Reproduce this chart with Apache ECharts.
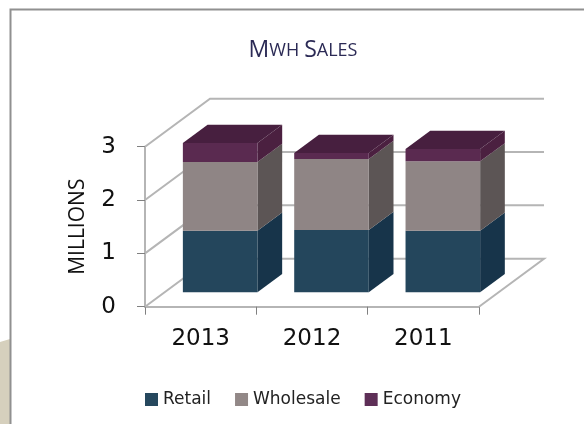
<!DOCTYPE html>
<html>
<head>
<meta charset="utf-8">
<style>
html, body { margin: 0; padding: 0; background: #fff; }
#main { width: 584px; height: 424px; }
</style>
<script src="https://cdn.jsdelivr.net/npm/echarts@6/dist/echarts.min.js"></script>
</head>
<body>
<div id="main"></div>
<script>
var categories = ['2013', '2012', '2011'];
var retail = [1.155, 1.17, 1.155];
var wholesale = [1.29, 1.33, 1.30];
var economy = [0.355, 0.11, 0.23];
var yTicks = [0, 1, 2, 3];

// fake 3D: how far the back wall sits from the front plane, in px
var DEPTH_X = 65, DEPTH_Y = 48;
var BAR_FRONT = 0.3, BAR_BACK = 0.68, BAR_WIDTH = 0.67;

function stackData(values, below) {
	return values.map(function (v, i) {
		var lo = below ? below[i] : 0;
		return [i, lo, lo + v];
	});
}
var retailStack = stackData(retail);
var retailTop = retail.map(function (v) { return v; });
var wholesaleStack = stackData(wholesale, retailTop);
var wholesaleTop = wholesale.map(function (v, i) { return v + retailTop[i]; });
var economyStack = stackData(economy, wholesaleTop);

function boxRenderer(front, side, top) {
	return function (params, api) {
		var cat = api.value(0);
		var band = api.size([1, 0])[0];
		var lo = api.coord([cat, api.value(1)]);
		var hi = api.coord([cat, api.value(2)]);
		var x0 = lo[0] - band * BAR_WIDTH / 2 + DEPTH_X * BAR_FRONT;
		var x1 = lo[0] + band * BAR_WIDTH / 2 + DEPTH_X * BAR_FRONT;
		var yLo = lo[1] - DEPTH_Y * BAR_FRONT;
		var yHi = hi[1] - DEPTH_Y * BAR_FRONT;
		var dx = DEPTH_X * (BAR_BACK - BAR_FRONT);
		var dy = DEPTH_Y * (BAR_BACK - BAR_FRONT);
		var faces = [
			{ type: 'polygon', shape: { points: [[x1, yLo], [x1 + dx, yLo - dy], [x1 + dx, yHi - dy], [x1, yHi]] }, style: { fill: side } },
			{ type: 'rect', shape: { x: x0, y: yHi, width: x1 - x0, height: yLo - yHi }, style: { fill: front } }
		];
		if (top) {
			faces.push({ type: 'polygon', shape: { points: [[x0, yHi], [x1, yHi], [x1 + dx, yHi - dy], [x0 + dx, yHi - dy]] }, style: { fill: top } });
		}
		return { type: 'group', children: faces };
	};
}

// walls: one diagonal plus one back line per y tick, the floor closes on the right
function wallRenderer(params, api) {
	var v = api.value(1);
	var band = api.size([1, 0])[0];
	var left = api.coord([0, v]);
	var right = api.coord([categories.length - 1, v]);
	var xl = left[0] - band / 2;
	var xr = right[0] + band / 2;
	var y = left[1];
	var style = { stroke: '#b5b5b5', lineWidth: 2, fill: null };
	var pts = [[xl, y], [xl + DEPTH_X, y - DEPTH_Y], [xr + DEPTH_X, y - DEPTH_Y]];
	if (v === 0) {
		pts.push([xr, y]);
	}
	return { type: 'polyline', shape: { points: pts }, style: style };
}

var myChart = echarts.init(document.getElementById('main'));
myChart.setOption({
	animation: false,
	backgroundColor: '#fff',
	title: {
		text: '{a|M}{b|WH} {a|S}{b|ALES}',
		left: 298,
		top: 34,
		textAlign: 'center',
		textStyle: {
			rich: {
				a: { fontFamily: 'Open Sans', fontWeight: 'normal', fontSize: 23, color: '#2b2a55' },
				b: { fontFamily: 'Open Sans', fontWeight: 'normal', fontSize: 18, color: '#2b2a55' }
			}
		}
	},
	legend: {
		left: 145,
		top: 391,
		itemWidth: 13,
		itemHeight: 13,
		itemGap: 24,
		icon: 'rect',
		data: ['Retail', 'Wholesale', 'Economy'],
		textStyle: { fontFamily: 'DejaVu Sans', fontSize: 17, color: '#222', padding: [-6, 0, 0, 0] },
		padding: 0,
		selectedMode: false
	},
	grid: { left: 145, top: 146.7, width: 334, height: 160 },
	xAxis: {
		type: 'category',
		data: categories,
		axisLine: { show: true, lineStyle: { color: '#b5b5b5', width: 2 } },
		axisTick: { show: true, length: 8, lineStyle: { color: '#808080', width: 1 } },
		axisLabel: { fontFamily: 'DejaVu Sans', fontSize: 23, color: '#111', margin: 21 }
	},
	yAxis: {
		type: 'value',
		min: 0,
		max: 3,
		interval: 1,
		name: 'MILLIONS',
		nameLocation: 'middle',
		nameGap: 56,
		nameTextStyle: { fontFamily: 'Open Sans', fontSize: 21, color: '#111' },
		splitLine: { show: false },
		axisLine: { show: true, lineStyle: { color: '#b5b5b5', width: 2 } },
		axisTick: { show: true, length: 8, lineStyle: { color: '#808080', width: 1 } },
		axisLabel: { fontFamily: 'DejaVu Sans', fontSize: 23, color: '#111', margin: 29 }
	},
	graphic: [
		{ type: 'polygon', silent: true, z: -1, shape: { points: [[0, 342], [10, 339], [10, 424], [0, 424]] }, style: { fill: '#d6d0bd' } },
		{ type: 'polyline', silent: true, z: -1, shape: { points: [[584, 9.5], [10.5, 9.5], [10.5, 424]] }, style: { stroke: '#909090', lineWidth: 2, fill: null } }
	],
	series: [
		{
			type: 'custom', name: 'walls', clip: false, z: 1,
			encode: { x: 0, y: 1 },
			data: yTicks.map(function (t) { return [0, t]; }),
			renderItem: wallRenderer
		},
		{
			type: 'custom', name: 'Retail', clip: false, z: 2,
			itemStyle: { color: '#26485e' },
			encode: { x: 0, y: [1, 2] },
			data: retailStack,
			renderItem: boxRenderer('#24465c', '#17344a')
		},
		{
			type: 'custom', name: 'Wholesale', clip: false, z: 3,
			itemStyle: { color: '#928887' },
			encode: { x: 0, y: [1, 2] },
			data: wholesaleStack,
			renderItem: boxRenderer('#8f8585', '#5c5555')
		},
		{
			type: 'custom', name: 'Economy', clip: false, z: 4,
			itemStyle: { color: '#5e2f57' },
			encode: { x: 0, y: [1, 2] },
			data: economyStack,
			renderItem: boxRenderer('#5a2a50', '#4b2040', '#471f3f')
		}
	]
});
</script>
</body>
</html>
